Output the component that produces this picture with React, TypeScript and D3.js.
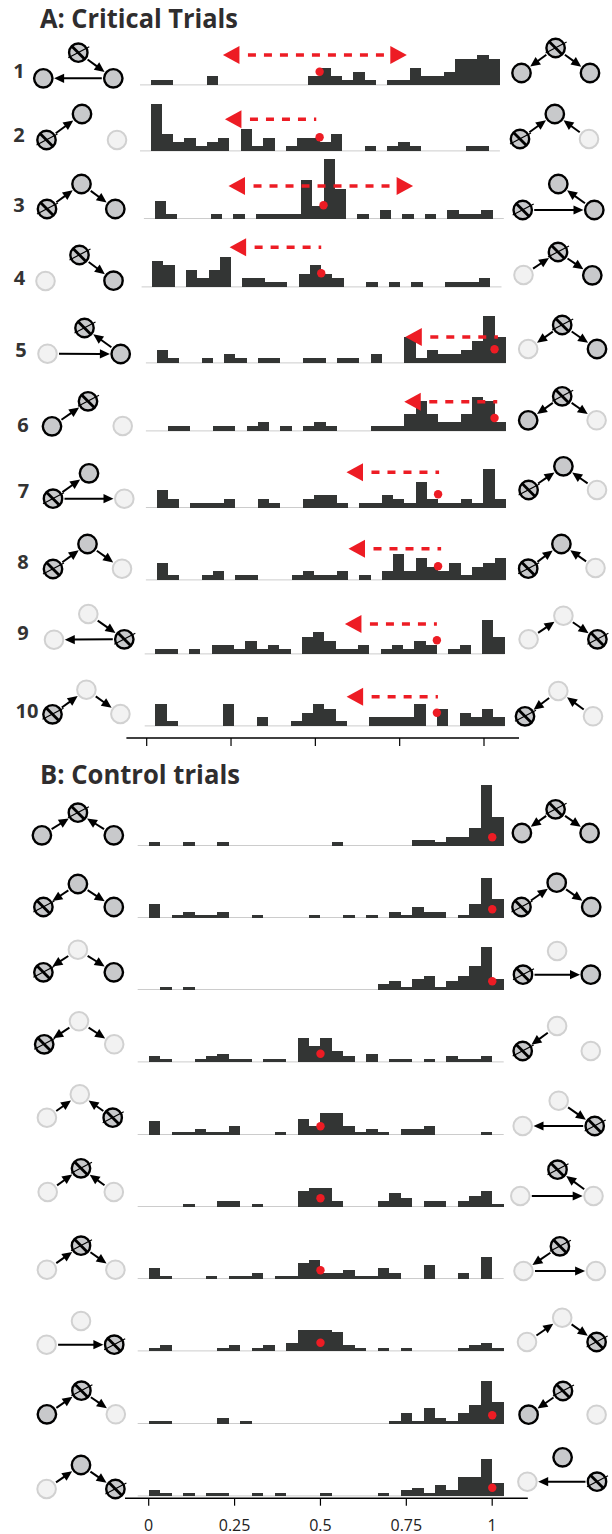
import React from "react";
import * as d3 from "d3";

// ---------- histogram counts, 31 bins of width 1/30 starting at 0 ----------
const critical1 = [1,1,0,0,0,2,0,0,0,0,0,0,0,0,2,4,2,1,3,1,0,1,1,4,2,2,3,6,6,7,6];
const critical2 = [11,4,2,3,1,2,3,0,5,1,3,0,1,3,3,2,4,0,0,1,0,1,2,1,0,0,0,0,1,1,0];
const critical3 = [4,1,0,0,0,1,0,1,0,1,1,1,1,9,3,14,7,0,1,0,2,0,1,0,1,0,2,1,1,2,0];
const critical4 = [6,5,0,4,2,4,7,0,2,2,1,1,0,3,5,3,2,0,0,1,0,1,0,1,0,0,1,1,1,2,0];
const critical5 = [3,1,0,0,1,0,2,1,0,1,1,0,0,1,1,0,1,1,0,2,0,0,6,1,3,2,2,3,5,11,6];
const critical6 = [0,1,1,0,0,1,1,0,1,2,0,1,0,1,2,1,0,0,0,1,1,1,4,7,4,2,2,4,8,7,2];
const critical7 = [4,2,0,1,1,1,2,0,0,2,1,0,0,2,3,3,1,0,1,1,3,2,1,6,2,1,1,2,1,9,2];
const critical8 = [4,1,0,0,1,2,0,1,1,0,0,0,1,2,1,1,2,0,1,0,2,6,2,5,3,2,4,1,3,4,5];
const critical9 = [1,1,0,1,0,2,2,1,3,1,2,1,0,4,5,3,1,1,2,0,1,2,1,3,2,0,1,2,0,8,4];
const critical10 = [5,1,0,0,0,0,5,0,0,2,0,0,1,3,5,4,1,0,0,2,2,2,2,5,0,4,0,3,2,4,2];
const control1 = [1,0,0,1,0,0,1,0,0,0,0,0,0,0,0,0,1,0,0,0,0,0,0,2,2,1,3,3,6,21,10];
const control2 = [5,0,1,2,1,1,2,0,0,1,0,0,0,0,1,0,0,1,0,1,0,2,1,4,2,2,0,1,5,15,7];
const control3 = [0,1,0,1,0,0,0,0,0,0,0,0,0,0,0,0,0,0,0,0,2,3,1,4,5,1,3,5,9,16,4];
const control4 = [2,1,0,0,1,2,3,1,1,0,1,1,0,9,6,9,4,2,0,3,0,1,1,0,1,0,2,1,1,2,0];
const control5 = [5,0,1,1,2,1,1,3,0,0,0,1,0,6,3,8,8,3,1,2,1,0,2,2,3,0,0,0,0,1,0];
const control6 = [0,0,0,1,0,0,2,2,0,1,0,0,0,6,7,7,2,0,0,0,2,5,3,0,2,2,0,2,4,6,1];
const control7 = [4,1,0,0,0,1,0,1,1,2,0,1,1,6,7,2,2,3,1,1,4,2,0,0,5,0,0,2,0,8,0];
const control8 = [1,2,0,0,0,0,1,2,0,1,2,0,3,8,8,8,7,2,1,0,1,0,1,0,0,0,0,1,2,3,1];
const control9 = [1,1,0,0,0,0,2,0,1,0,0,0,0,0,0,0,0,0,0,0,0,1,4,1,6,2,1,4,7,16,8];
const control10 = [2,1,0,1,0,1,1,0,0,1,0,1,0,0,0,1,0,0,0,0,1,0,2,3,1,4,2,7,7,14,5];

const criticalCounts = [critical1,critical2,critical3,critical4,critical5,critical6,critical7,critical8,critical9,critical10];
const controlCounts = [control1,control2,control3,control4,control5,control6,control7,control8,control9,control10];

// normative answer (red dot) and the predicted shift (red arrow: tips, dashed tail end)
const criticalNorm = [0.5,0.5,0.5,0.5,1,1,0.833,0.833,0.833,0.833];
const criticalShift: number[][] = [[0.214,0.758],[0.22],[0.219,0.765],[0.229],[0.736],[0.733],[0.562],[0.568],[0.561],[0.566]];
const criticalTail = [0.71,0.49,0.72,0.5,1.01,1.008,0.836,0.842,0.833,0.836];
const controlNorm = [1,1,1,0.5,0.5,0.5,0.5,0.5,1,1];

const tickValues = [0,0.25,0.5,0.75,1];
const tickLabels = ["0","0.25","0.5","0.75","1"];
const sectionTitles = ["A: Critical Trials","B: Control trials"];
const rowLabels = ["1","2","3","4","5","6","7","8","9","10"];

// ---------- causal diagrams: node states (top, left, right), same in both columns; edges ----------
type S = "on"|"x"|"off";
const nodeStates: S[][] = [
 ["x","on","on"],["on","x","off"],["on","x","on"],["x","off","on"],["x","off","on"],
 ["x","on","off"],["on","x","off"],["on","x","off"],["off","off","x"],["off","x","off"],
 ["x","on","on"],["on","x","on"],["off","x","on"],["off","x","off"],["off","off","x"],
 ["x","off","off"],["x","off","off"],["off","off","x"],["x","on","off"],["on","off","x"],
];
const leftEdges = ["TR RL","LT","LT TR","TR","RT LR","LT","LT LR","LT TR","TR RL","LT TR",
 "LT RT","TL TR","TL TR","TL TR","LT RT","LT RT","LT TR","LR","LT TR","LT TR"];
const rightEdges = ["TL TR","LT RT","RT LR","LT TR","TL TR","TL TR","LT RT","LT RT","LT TR","TL RT",
 "TL TR","LT TR","LR","TL","TR RL","RT LR","TL LR","LT TR","TL","RL"];

// ---------- layout ----------
const rowBaseA = [84.7,150.7,218.3,286.7,362.7,430.7,507.3,579.7,653.7,725.7];
const rowLeftA = [150.6,150.6,154.5,152.2,156.5,156.5,156.5,156.5,155.3,155.3];
const dotYA = [71.7,137.3,205.3,273.3,349.3,418,494.3,566.3,640.3,712.7];
const arrowYA = [55,119.3,186,247.3,337,401.7,472.3,548.7,624,696.7];
const rowBaseB = [845.3,917.3,989.3,1061.7,1134.3,1206.3,1278.3,1350.7,1423.3,1495.7];
const unitB = [2.87,2.63,2.63,2.63,2.63,2.63,2.63,2.63,2.63,2.63];
const labelPos = [[19,78],[19,142],[19,212],[19.5,285],[21,356.7],[23,431.7],[23.5,497.7],[23,569],[23,640],[27,717.7]];
type P = [number,number];
const leftPos: P[][] = [
 [[78.3,52.7],[43.3,78.3],[113.3,78.3]],[[82,114],[46.5,140],[117,140]],[[81.5,184],[47,209],[115.3,209]],
 [[79.5,255],[45.5,281],[113.5,280.7]],[[84.5,328],[47.5,353.7],[120.7,354]],[[88,401.3],[52,426.3],[122.7,426]],
 [[89,473.3],[53,498.7],[124.3,498.7]],[[87.5,544],[53,569],[122,568.7]],[[88.3,614],[54,639.7],[124.3,639.3]],
 [[86.4,689.7],[52.5,714.3],[120.4,714]],
 [[77.9,812.7],[41.9,835.3],[113.8,835.3]],[[77.9,884],[43.4,907],[113.8,907]],[[77.9,949.7],[43.4,972.3],[113.8,972.3]],
 [[79,1021.3],[44.2,1044.3],[114.2,1044.3]],[[79.8,1094.3],[46.9,1117.7],[112.7,1117.7]],[[81,1168.3],[47.7,1192],[113.8,1192]],
 [[81,1245.7],[46.9,1269.7],[115.4,1269.7]],[[81,1321],[46.6,1344.7],[114.2,1344.7]],[[81.4,1390.7],[46.9,1414.3],[115.8,1414.3]],
 [[81,1465],[46.6,1489],[115.4,1489]],
];
const rightPos: P[][] = [
 [[555.6,48],[521.5,73],[590,73]],[[554.8,114],[520,139],[589,139]],[[558.3,184],[522.7,210],[594.3,210]],
 [[558,252],[523.5,275],[592.3,275.3]],[[562.2,325],[528.2,349],[597,349]],[[562.2,396.3],[528.2,420.3],[596.6,420.3]],
 [[563.4,466.3],[528.6,490],[597,490]],[[561.4,544],[528.2,568.7],[595.5,568]],[[563.4,615.7],[528.6,639.3],[597.4,639.3]],
 [[558.3,691],[525,716.3],[593,716.3]],
 [[555.6,809.3],[521.9,833],[589.6,833]],[[556.7,882.7],[521.5,907],[591.2,907]],[[557.1,951],[523,974.7],[590.8,974.7]],
 [[557.1,1026],[522.7,1051],[590.8,1051]],[[558.7,1100.7],[522.7,1126],[594.7,1126]],[[557.5,1169.7],[520.3,1196],[593.5,1196]],
 [[559.9,1246.3],[523.5,1271],[595.9,1271]],[[562.2,1317.7],[527,1342],[596.6,1342]],[[563,1391],[528.6,1414.7],[596.6,1414.7]],
 [[562.6,1457.3],[527.4,1481.7],[597,1481.7]],
];

const BAR = "#333534", RED = "#ed1c24", AXIS = "#ccc";
const FONT = "'Open Sans','Noto Sans',sans-serif";
const binEdges = d3.range(31).map(i => i / 30);
const idx: Record<string, number> = { T: 0, L: 1, R: 2 };

function Histogram({ counts, x, y, start }: { counts: number[]; x: any; y: any; start: number }) {
  const w = x(1 / 30) - x(0);
  return (
    <g>
      <line x1={start} x2={x(31 / 30)} y1={y(0) + 0.2} y2={y(0) + 0.2} stroke={AXIS} strokeWidth={1} />
      <g shapeRendering="crispEdges">
        {counts.map((c, i) => c > 0 && (
          <rect key={i} x={x(binEdges[i])} width={w} y={y(c)} height={y(0) - y(c) + 0.6} fill={BAR} />
        ))}
      </g>
    </g>
  );
}

function Node({ p, s }: { p: P; s: S }) {
  const off = s === "off";
  return (
    <g>
      <circle cx={p[0]} cy={p[1]} r={off ? 9.3 : 9.2} fill={off ? "#f2f2f2" : "#c8c9cb"} stroke={off ? "#d1d1d1" : "#000"} strokeWidth={off ? 2 : 2.4} />
      {s === "x" && (
        <g stroke="#000" fill="none">
          <line x1={p[0] - 6.5} y1={p[1] - 6.5} x2={p[0] + 6.5} y2={p[1] + 6.5} strokeWidth={2.8} />
          <line x1={p[0] - 10} y1={p[1] + 5} x2={p[0] + 11} y2={p[1] - 6} strokeWidth={1.2} />
        </g>
      )}
    </g>
  );
}

function Edge({ a, b }: { a: P; b: P }) {
  const dx = b[0] - a[0], dy = b[1] - a[1];
  const d = Math.hypot(dx, dy), ux = dx / d, uy = dy / d;
  const s: P = [a[0] + ux * 11.5, a[1] + uy * 11.5];
  const tip: P = [b[0] - ux * 10.8, b[1] - uy * 10.8];
  const base: P = [tip[0] - ux * 10, tip[1] - uy * 10];
  const hw = 4.6;
  return (
    <g>
      <line x1={s[0]} y1={s[1]} x2={base[0] + ux} y2={base[1] + uy} stroke="#000" strokeWidth={2} />
      <path fill="#000" d={`M${tip[0]},${tip[1]}L${base[0] - uy * hw},${base[1] + ux * hw}L${base[0] + uy * hw},${base[1] - ux * hw}Z`} />
    </g>
  );
}

function Network({ pos, states, edges }: { pos: P[]; states: S[]; edges: string }) {
  return (
    <g>
      {edges.split(" ").map((e, i) => <Edge key={i} a={pos[idx[e[0]]]} b={pos[idx[e[1]]]} />)}
      {pos.map((p, i) => <Node key={i} p={p} s={states[i]} />)}
    </g>
  );
}

function RedArrow({ x, y, tips, tail }: { x: any; y: number; tips: number[]; tail: number }) {
  const head = 16.5;
  const dashStart = x(tips[0]) + head + 8.5;
  return (
    <g>
      <line x1={dashStart} x2={x(tail)} y1={y} y2={y} stroke={RED} strokeWidth={3.4} strokeDasharray="8 8" />
      {tips.map((t, i) => {
        const tip = x(t), base = tip + (i === 0 ? head : -head);
        return <path key={i} fill={RED} d={`M${tip},${y}L${base},${y - 9}L${base},${y + 9}Z`} />;
      })}
    </g>
  );
}

export default function App() {
  const sectionA = criticalCounts.map((counts, i) => {
    const left = rowLeftA[i];
    const x = d3.scaleLinear().domain([0, 31 / 30]).range([left, left + 349.3]);
    const y = d3.scaleLinear().domain([0, 1]).range([rowBaseA[i], rowBaseA[i] - 4.25]);
    return { counts, x, y, start: left - 10.6 };
  });
  const xB = d3.scaleLinear().domain([0, 31 / 30]).range([148.7, 148.7 + 355]);
  const sectionB = controlCounts.map((counts, i) => {
    const y = d3.scaleLinear().domain([0, 1]).range([rowBaseB[i], rowBaseB[i] - unitB[i]]);
    return { counts, x: xB, y, start: 137.7 };
  });
  const xAxisA = d3.scaleLinear().domain([0, 1]).range([146.7, 484]);
  const xAxisB = d3.scaleLinear().domain([0, 1]).range([148.7, 492.2]);

  return (
    <svg width={612} height={1534} viewBox="0 0 612 1534" style={{ position: "absolute", left: 0, top: 0, display: "block", background: "#fff" }}>
      <text x={40} y={27.5} fontFamily={FONT} fontWeight={700} fontSize={27} fill="#2f2d2e" textLength={198} lengthAdjust="spacingAndGlyphs">{sectionTitles[0]}</text>
      <text x={40} y={784} fontFamily={FONT} fontWeight={700} fontSize={27} fill="#2f2d2e" textLength={200} lengthAdjust="spacingAndGlyphs">{sectionTitles[1]}</text>

      {rowLabels.map((l, i) => (
        <text key={l} x={labelPos[i][0]} y={labelPos[i][1]} textAnchor="middle" fontFamily={FONT} fontWeight={700} fontSize={20} fill="#333">{l}</text>
      ))}

      {sectionA.map((r, i) => <Histogram key={i} {...r} />)}
      {sectionB.map((r, i) => <Histogram key={i} {...r} />)}

      {criticalNorm.map((v, i) => (
        <g key={i}>
          <RedArrow x={sectionA[i].x} y={arrowYA[i]} tips={criticalShift[i]} tail={criticalTail[i]} />
          <circle cx={sectionA[i].x(v)} cy={dotYA[i]} r={4.2} fill={RED} />
        </g>
      ))}
      {controlNorm.map((v, i) => (
        <circle key={i} cx={xB(v)} cy={rowBaseB[i] - 8} r={4.2} fill={RED} />
      ))}

      {leftPos.map((pos, i) => <Network key={"l" + i} pos={pos} states={nodeStates[i]} edges={leftEdges[i]} />)}
      {rightPos.map((pos, i) => <Network key={"r" + i} pos={pos} states={nodeStates[i]} edges={rightEdges[i]} />)}

      <line x1={126.4} x2={519} y1={738} y2={738} stroke="#000" strokeWidth={1.6} />
      {tickValues.map(t => (
        <line key={t} x1={xAxisA(t)} x2={xAxisA(t)} y1={738} y2={746} stroke="#000" strokeWidth={1.2} />
      ))}
      <line x1={125} x2={527.8} y1={1498.3} y2={1498.3} stroke="#000" strokeWidth={1.6} />
      {tickValues.map((t, i) => (
        <g key={t}>
          <line x1={xAxisB(t)} x2={xAxisB(t)} y1={1498.3} y2={1505.7} stroke="#000" strokeWidth={1.2} />
          <text x={xAxisB(t)} y={1530.5} textAnchor="middle" fontFamily={FONT} fontSize={16} fill="#222">{tickLabels[i]}</text>
        </g>
      ))}
    </svg>
  );
}
